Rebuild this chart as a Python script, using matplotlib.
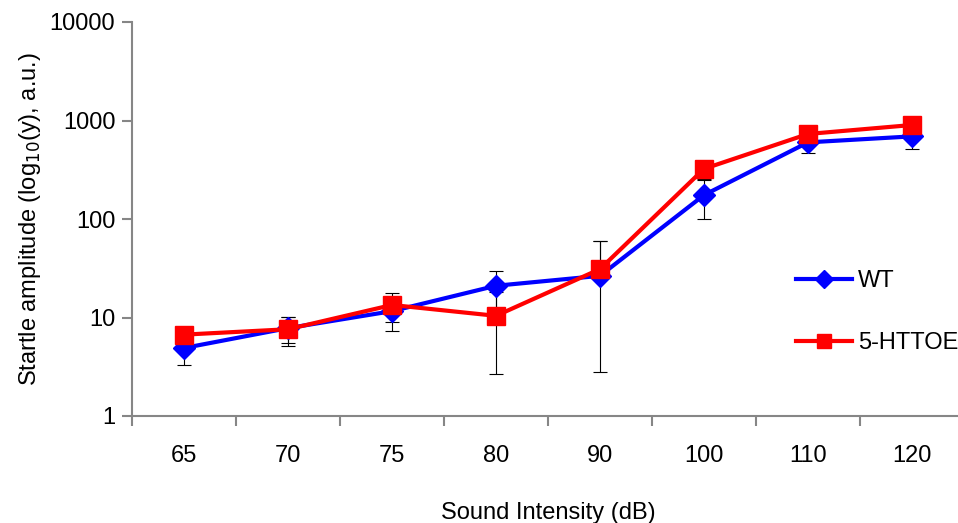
import matplotlib
matplotlib.use('Agg')
import matplotlib.pyplot as plt
import numpy as np

plt.rcParams['font.family'] = ['Liberation Sans', 'DejaVu Sans']

# data
intensity = ['65', '70', '75', '80', '90', '100', '110', '120']
wt = [4.9, 7.8, 11.6, 21, 26.5, 175, 600, 690]
wt_err = [1.6, 2.3, 4.3, 8.6, 33, 75, 133, 175]
httoe = [6.7, 7.6, 13.4, 10.4, 31, 323, 730, 900]
httoe_err = [0.5, 2.5, 4.4, 7.7, 28.2, 67, 20, 30]

grey = '#868686'
fs = 17


def log_err(vals, errs):
    # negative lower bounds cannot be shown on a log axis: drop them
    vals = np.asarray(vals, float)
    errs = np.asarray(errs, float)
    lower = np.where(errs < vals, errs, 0)
    return [lower, errs]


fig = plt.figure(figsize=(9.58, 5.23), dpi=100)
ax = fig.add_axes([132 / 958, 1 - 416 / 523, 832 / 958, (416 - 22) / 523])

x = np.arange(len(intensity))

ax.errorbar(x, wt, yerr=log_err(wt, wt_err), fmt='none', ecolor='black', elinewidth=0.8,
            capsize=5, capthick=0.8, zorder=1)
ax.errorbar(x, httoe, yerr=log_err(httoe, httoe_err), fmt='none', ecolor='black', elinewidth=0.8,
            capsize=5, capthick=0.8, zorder=1)
ax.plot(x, wt, color='#0000FF', lw=3, marker='D', ms=11, label='WT', zorder=3)
ax.plot(x, httoe, color='#FF0000', lw=3, marker='s', ms=13, label='5-HTTOE', zorder=4)

ax.set_yscale('log')
ax.set_ylim(1, 10000)
ax.set_yticks([1, 10, 100, 1000, 10000])
ax.set_yticklabels(['1', '10', '100', '1000', '10000'])
ax.yaxis.set_minor_locator(matplotlib.ticker.NullLocator())

ax.set_xlim(-0.5, len(intensity) - 0.5)
ax.set_xticks(x)
ax.set_xticklabels(intensity)
ax.set_xticks(np.arange(-0.5, len(intensity)), minor=True)
ax.tick_params(axis='x', which='major', length=0, pad=21, labelsize=fs)
ax.tick_params(axis='x', which='minor', length=7, width=1.5, color=grey)
ax.tick_params(axis='y', which='major', length=7, width=1.5, color=grey, labelsize=fs, pad=5)

for s in ['top', 'right']:
    ax.spines[s].set_visible(False)
for s in ['left', 'bottom']:
    ax.spines[s].set_color(grey)
    ax.spines[s].set_linewidth(1.5)

ax.set_xlabel('Sound Intensity (dB)', fontsize=fs, labelpad=25)
ax.set_ylabel('Startle amplitude (log$_{10}$(y), a.u.)', fontsize=fs, labelpad=5)

ax.legend(loc='upper left', bbox_to_anchor=(796 / 958, 1 - 270 / 523),
          bbox_transform=fig.transFigure, frameon=False, fontsize=fs,
          borderpad=0, borderaxespad=0,
          handlelength=2.37, handletextpad=0.25, labelspacing=1.71, markerscale=0.8)

fig.savefig('out.png', dpi=100)
